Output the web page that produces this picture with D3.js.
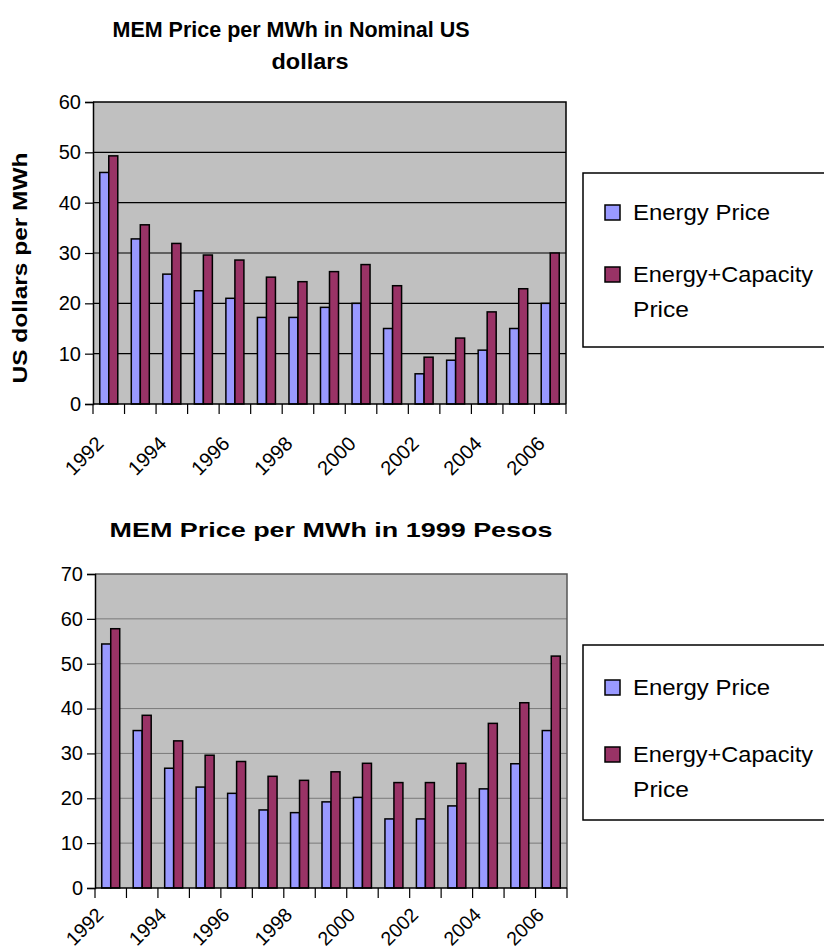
<!DOCTYPE html>
<html>
<head>
<meta charset="utf-8">
<script src="https://cdn.jsdelivr.net/npm/d3@7"></script>
<style>
  html, body { margin: 0; padding: 0; background: #fff; }
  svg { display: block; font-family: "Liberation Sans", Arial, sans-serif; }
</style>
</head>
<body>
<svg id="chart" width="824" height="952"></svg>
<script>
// Wholesale electricity market (MEM) prices, 1992-2006
const years = ["1992","1993","1994","1995","1996","1997","1998","1999","2000","2001","2002","2003","2004","2005","2006"];
const seriesNames = ["Energy Price", "Energy+Capacity Price"];
const seriesColors = ["#9999FF", "#993366"];

// US dollars per MWh, nominal
const nominalEnergy = [46.0, 32.8, 25.8, 22.5, 21.0, 17.2, 17.2, 19.2, 20.0, 15.0, 6.0, 8.7, 10.7, 15.0, 20.0];
const nominalTotal  = [49.3, 35.6, 31.9, 29.6, 28.6, 25.2, 24.3, 26.3, 27.7, 23.5, 9.3, 13.1, 18.3, 22.9, 30.0];
const nominalTicks  = [0, 10, 20, 30, 40, 50, 60];

// 1999 pesos per MWh
const pesosEnergy = [54.4, 35.1, 26.7, 22.5, 21.1, 17.4, 16.8, 19.2, 20.2, 15.4, 15.4, 18.3, 22.1, 27.7, 35.1];
const pesosTotal  = [57.8, 38.5, 32.8, 29.6, 28.2, 24.9, 24.0, 25.9, 27.8, 23.5, 23.5, 27.8, 36.7, 41.3, 51.7];
const pesosTicks  = [0, 10, 20, 30, 40, 50, 60, 70];

const svg = d3.select("#chart");

function drawPanel(opt) {
  const g = svg.append("g");
  const x = d3.scaleBand().domain(years).range([opt.x0, opt.x1]).paddingInner(0).paddingOuter(0);
  const y = d3.scaleLinear().domain([0, d3.max(opt.ticks)]).range([opt.y1, opt.y0]);
  const bw = x.bandwidth() / 3.5;

  // plot background
  g.append("rect")
    .attr("x", opt.x0).attr("y", opt.y0)
    .attr("width", opt.x1 - opt.x0).attr("height", opt.y1 - opt.y0)
    .attr("fill", "#C0C0C0");

  // gridlines
  g.selectAll(".grid").data(opt.ticks.filter(t => t > 0 && t < d3.max(opt.ticks)))
    .enter().append("line")
    .attr("x1", opt.x0).attr("x2", opt.x1)
    .attr("y1", d => y(d)).attr("y2", d => y(d))
    .attr("stroke", opt.gridColor).attr("stroke-width", opt.gridWidth);

  // plot frame (top and right)
  g.append("path")
    .attr("d", `M${opt.x0},${opt.y0}H${opt.x1}V${opt.y1}`)
    .attr("fill", "none").attr("stroke", opt.frameColor).attr("stroke-width", 1.5);

  // bars
  const rows = years.map((yr, i) => ({ yr, v: [opt.a[i], opt.b[i]] }));
  const grp = g.selectAll(".cat").data(rows).enter().append("g");
  grp.selectAll("rect").data(d => d.v.map((v, k) => ({ yr: d.yr, v, k })))
    .enter().append("rect")
    .attr("x", d => x(d.yr) + x.bandwidth() / 2 - bw + d.k * bw)
    .attr("y", d => y(d.v))
    .attr("width", bw)
    .attr("height", d => y(0) - y(d.v))
    .attr("fill", d => seriesColors[d.k])
    .attr("stroke", "#000").attr("stroke-width", 1.5);

  // y axis
  const ya = d3.axisLeft(y).tickValues(opt.ticks).tickSize(8).tickPadding(4).tickFormat(d3.format("d"));
  const yg = g.append("g").attr("transform", `translate(${opt.x0},0)`).call(ya);
  yg.select(".domain").attr("stroke", "#000").attr("stroke-width", 1.5);
  yg.selectAll(".tick line").attr("stroke", "#000").attr("stroke-width", 1.2);
  yg.selectAll(".tick text").attr("font-size", 20).attr("fill", "#000")
    .attr("font-family", "Liberation Sans, Arial, sans-serif");

  // x axis line and category boundary ticks
  g.append("line").attr("x1", opt.x0).attr("x2", opt.x1)
    .attr("y1", y(0)).attr("y2", y(0)).attr("stroke", "#000").attr("stroke-width", 1.5);
  const bounds = years.map(yr => x(yr)).concat([opt.x1]);
  g.selectAll(".xt").data(bounds).enter().append("line")
    .attr("x1", d => d).attr("x2", d => d)
    .attr("y1", y(0)).attr("y2", y(0) + 10)
    .attr("stroke", "#000").attr("stroke-width", 1.2);

  // year labels, every other year
  g.selectAll(".xl").data(years.filter((yr, i) => i % 2 === 0)).enter().append("text")
    .attr("transform", d => `translate(${x(d) + x.bandwidth() / 2 + opt.labDx},${y(0) + opt.labDy}) rotate(-45)`)
    .attr("text-anchor", "end")
    .attr("font-size", opt.labSize).attr("fill", "#000")
    .text(d => d);

  // legend
  const lg = g.append("g");
  lg.append("rect")
    .attr("x", opt.leg.x).attr("y", opt.leg.y)
    .attr("width", 300).attr("height", opt.leg.h)
    .attr("fill", "#fff").attr("stroke", "#000").attr("stroke-width", 1.5);
  const items = [
    { k: 0, lines: ["Energy Price"], lens: [137] },
    { k: 1, lines: ["Energy+Capacity", "Price"], lens: [180, 56] }
  ];
  items.forEach((it, idx) => {
    const by = opt.leg.y + opt.leg.rows[idx];
    lg.append("rect")
      .attr("x", opt.leg.x + 22).attr("y", by - 15)
      .attr("width", 15).attr("height", 15)
      .attr("fill", seriesColors[it.k]).attr("stroke", "#000").attr("stroke-width", 1.5);
    it.lines.forEach((t, j) => {
      lg.append("text")
        .attr("x", opt.leg.x + 50).attr("y", by + j * 35)
        .attr("font-size", 22).attr("fill", "#000")
        .attr("textLength", it.lens[j]).attr("lengthAdjust", "spacingAndGlyphs")
        .text(t);
    });
  });
  return g;
}

// upper panel: nominal US dollars
drawPanel({
  x0: 93, x1: 566, y0: 102, y1: 404,
  ticks: nominalTicks, a: nominalEnergy, b: nominalTotal,
  gridColor: "#000", gridWidth: 1.2, frameColor: "#000",
  labDx: -4, labDy: 41, labSize: 20,
  leg: { x: 583, y: 173, h: 174, rows: [47, 109] }
});

// lower panel: 1999 pesos
drawPanel({
  x0: 95, x1: 567, y0: 574, y1: 888,
  ticks: pesosTicks, a: pesosEnergy, b: pesosTotal,
  gridColor: "#7a7a7a", gridWidth: 1, frameColor: "#555",
  labDx: -6, labDy: 28, labSize: 19.5,
  leg: { x: 583, y: 645, h: 175, rows: [50, 117] }
});

// titles
svg.append("text").attr("x", 291).attr("y", 37).attr("text-anchor", "middle")
  .attr("font-size", 22).attr("font-weight", "bold")
  .attr("textLength", 357).attr("lengthAdjust", "spacingAndGlyphs")
  .text("MEM Price per MWh in Nominal US");
svg.append("text").attr("x", 310).attr("y", 69).attr("text-anchor", "middle")
  .attr("font-size", 22).attr("font-weight", "bold")
  .attr("textLength", 77).attr("lengthAdjust", "spacingAndGlyphs")
  .text("dollars");
svg.append("text").attr("x", 331).attr("y", 537).attr("text-anchor", "middle")
  .attr("font-size", 21).attr("font-weight", "bold")
  .attr("textLength", 443).attr("lengthAdjust", "spacingAndGlyphs")
  .text("MEM Price per MWh  in 1999 Pesos");

// y-axis title for the upper panel
svg.append("text")
  .attr("transform", "translate(27,268) rotate(-90)")
  .attr("text-anchor", "middle")
  .attr("font-size", 21).attr("font-weight", "bold")
  .attr("textLength", 231).attr("lengthAdjust", "spacingAndGlyphs")
  .text("US dollars per MWh");
</script>
</body>
</html>
